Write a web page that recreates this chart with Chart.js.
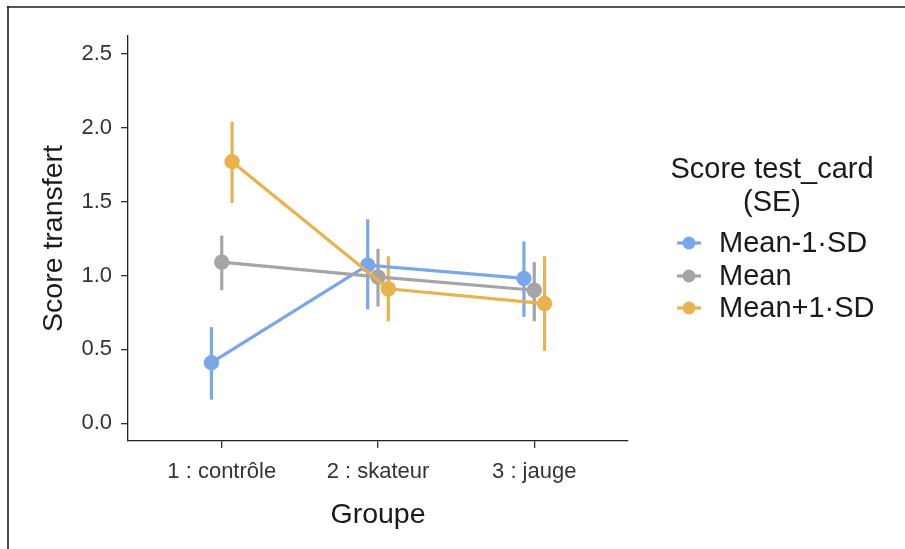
<!DOCTYPE html>
<html>
<head>
<meta charset="utf-8">
<script src="https://cdn.jsdelivr.net/npm/chart.js@4.4.1/dist/chart.umd.min.js"></script>
<style>
  html, body { margin: 0; padding: 0; background: #fff; }
  #wrap { position: relative; width: 905px; height: 549px; }
  canvas { display: block; }
</style>
</head>
<body>
<div id="wrap"><canvas id="c" width="905" height="549"></canvas></div>
<script>
// ---- data ----
const categories = ['1 : contrôle', '2 : skateur', '3 : jauge'];
const seriesNames = ['Mean-1·SD', 'Mean', 'Mean+1·SD'];
const yTicks = [0.0, 0.5, 1.0, 1.5, 2.0, 2.5];

const lowMean  = [0.41, 1.07, 0.98];
const lowLower = [0.16, 0.77, 0.72];
const lowUpper = [0.65, 1.38, 1.23];

const midMean  = [1.09, 0.99, 0.90];
const midLower = [0.90, 0.79, 0.69];
const midUpper = [1.27, 1.18, 1.09];

const highMean  = [1.77, 0.91, 0.81];
const highLower = [1.49, 0.69, 0.49];
const highUpper = [2.04, 1.13, 1.13];

const colors = ['#7AA6EA', '#A5A5A5', '#E8B24F'];
const dodge = [-0.066, 0, 0.066];

const means = [lowMean, midMean, highMean];
const lowers = [lowLower, midLower, highLower];
const uppers = [lowUpper, midUpper, highUpper];

const FONT = '"Liberation Sans", Arial, sans-serif';

const datasets = seriesNames.map((name, s) => ({
  label: name,
  data: categories.map((c, i) => ({ x: i + 1 + dodge[s], y: means[s][i], lo: lowers[s][i], hi: uppers[s][i] })),
  showLine: true,
  borderColor: colors[s],
  backgroundColor: colors[s],
  pointBackgroundColor: colors[s],
  pointBorderWidth: 0,
  pointRadius: 7.7,
  pointHoverRadius: 7.7,
  borderWidth: 3.2,
  order: 3 - s
}));

const frame = {
  id: 'frame',
  beforeDraw(chart) {
    const ctx = chart.ctx;
    ctx.save();
    ctx.fillStyle = '#fff';
    ctx.fillRect(0, 0, chart.width, chart.height);
    ctx.strokeStyle = '#555';
    ctx.lineWidth = 2;
    ctx.beginPath(); ctx.moveTo(7, 7); ctx.lineTo(905, 7); ctx.stroke();
    ctx.strokeStyle = '#111';
    ctx.lineWidth = 1.5;
    ctx.beginPath(); ctx.moveTo(8, 6); ctx.lineTo(8, 549); ctx.stroke();
    ctx.restore();
  }
};

const errorBars = {
  id: 'errorBars',
  beforeDatasetsDraw(chart) {
    const ctx = chart.ctx;
    const xs = chart.scales.x, ys = chart.scales.y;
    ctx.save();
    ctx.lineWidth = 3.2;
    chart.data.datasets.forEach((ds, s) => {
      ctx.strokeStyle = ds.borderColor;
      ds.data.forEach(p => {
        const px = xs.getPixelForValue(p.x);
        ctx.beginPath();
        ctx.moveTo(px, ys.getPixelForValue(p.lo));
        ctx.lineTo(px, ys.getPixelForValue(p.hi));
        ctx.stroke();
      });
    });
    ctx.restore();
  }
};

const legendPlugin = {
  id: 'customLegend',
  afterDraw(chart) {
    const ctx = chart.ctx;
    ctx.save();
    ctx.fillStyle = '#1a1a1a';
    ctx.font = '29px ' + FONT;
    ctx.textAlign = 'center';
    ctx.textBaseline = 'middle';
    ctx.fillText('Score test_card', 772, 170);
    ctx.fillText('(SE)', 772, 203);
    ctx.textAlign = 'left';
    const ys = [243, 276, 308];
    chart.data.datasets.forEach((ds, s) => {
      const y = ys[s];
      ctx.strokeStyle = ds.borderColor;
      ctx.lineWidth = 3.2;
      ctx.beginPath(); ctx.moveTo(677, y); ctx.lineTo(701, y); ctx.stroke();
      ctx.fillStyle = ds.borderColor;
      ctx.beginPath(); ctx.arc(689, y, 6.5, 0, Math.PI * 2); ctx.fill();
      ctx.fillStyle = '#1a1a1a';
      ctx.fillText(ds.label, 719, y + 1);
    });
    ctx.restore();
  }
};

new Chart(document.getElementById('c'), {
  type: 'scatter',
  data: { datasets },
  plugins: [frame, errorBars, legendPlugin],
  options: {
    responsive: false,
    animation: false,
    devicePixelRatio: 1,
    layout: { padding: { left: 33, right: 277, top: 36, bottom: 13 } },
    plugins: { legend: { display: false }, tooltip: { enabled: false } },
    scales: {
      x: {
        type: 'linear',
        min: 0.4, max: 3.6,
        afterBuildTicks: sc => { sc.ticks = categories.map((c, i) => ({ value: i + 1 })); },
        afterFit: sc => { sc.height = 95; },
        ticks: {
          callback: v => categories[Math.round(v) - 1],
          color: '#333',
          font: { family: FONT, size: 22 },
          padding: 11,
          maxRotation: 0, autoSkip: false
        },
        grid: { display: true, drawOnChartArea: false, drawTicks: true, tickLength: 7, color: '#333', lineWidth: 1.3 },
        border: { display: true, color: '#222', width: 1.3 },
        title: { display: true, text: 'Groupe', color: '#1a1a1a', font: { family: FONT, size: 28.5 }, padding: 4 }
      },
      y: {
        min: -0.12, max: 2.62,
        afterBuildTicks: sc => { sc.ticks = yTicks.map(v => ({ value: v })); },
        afterFit: sc => { sc.width = 95; },
        ticks: {
          callback: v => Number(v).toFixed(1),
          color: '#333',
          font: { family: FONT, size: 22 },
          padding: 9
        },
        grid: { display: true, drawOnChartArea: false, drawTicks: true, tickLength: 7, color: '#333', lineWidth: 1.3 },
        border: { display: true, color: '#222', width: 1.3 },
        title: { display: true, text: 'Score transfert', color: '#1a1a1a', font: { family: FONT, size: 28.5 }, padding: 4 }
      }
    }
  }
});
</script>
</body>
</html>
